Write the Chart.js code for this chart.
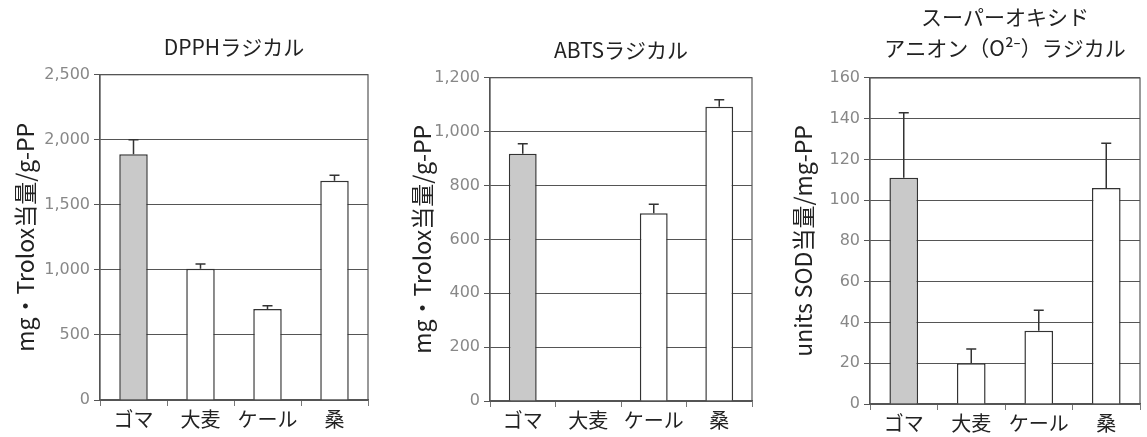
<!DOCTYPE html>
<html>
<head>
<meta charset="utf-8">
<script src="https://cdn.jsdelivr.net/npm/chart.js@4"></script>
<style>
  body { margin: 0; background: #fff; }
  #wrap { position: relative; width: 1147px; height: 437px; overflow: hidden; }
  canvas { position: absolute; top: 0; }
</style>
</head>
<body>
<div id="wrap">
  <canvas id="c1" width="380" height="437" style="left:0px"></canvas>
  <canvas id="c2" width="380" height="437" style="left:380px"></canvas>
  <canvas id="c3" width="387" height="437" style="left:760px"></canvas>
</div>
<script>
var categories = ['ゴマ', '大麦', 'ケール', '桑'];

var dpphValues = [1889, 1008, 700, 1685];
var dpphErrTop = [2000, 1045, 725, 1728];

var abtsValues = [918, 0, 697, 1092];
var abtsErrTop = [955, null, 730, 1118];

var sodValues = [111, 20, 36, 106];
var sodErrTop = [143, 27, 46, 128];

var barColors = ['#c9c9c9', '#ffffff', '#ffffff', '#ffffff'];

var jpFont = '"Noto Sans CJK JP", "Noto Sans", sans-serif';

// frame around the plot area
var framePlugin = {
    id: 'frame',
    beforeDatasetsDraw: function (chart) {
        var a = chart.chartArea, ctx = chart.ctx;
        ctx.save();
        ctx.strokeStyle = '#555';
        ctx.lineWidth = 1.2;
        ctx.strokeRect(a.left, a.top, a.right - a.left, a.bottom - a.top);
        ctx.restore();
    }
};

// upper error bars, read from dataset.errTop
var errorBarPlugin = {
    id: 'errorBars',
    afterDatasetsDraw: function (chart) {
        var ds = chart.data.datasets[0];
        var meta = chart.getDatasetMeta(0);
        var y = chart.scales.y;
        var ctx = chart.ctx;
        ctx.save();
        ctx.strokeStyle = '#333';
        ctx.lineWidth = 1.5;
        meta.data.forEach(function (bar, i) {
            var top = ds.errTop[i];
            if (top == null) return;
            var yTop = y.getPixelForValue(top);
            ctx.beginPath();
            ctx.moveTo(bar.x, bar.y);
            ctx.lineTo(bar.x, yTop);
            ctx.moveTo(bar.x - 5, yTop);
            ctx.lineTo(bar.x + 5, yTop);
            ctx.stroke();
        });
        ctx.restore();
    }
};

function makeChart(id, o) {
    var ctx = document.getElementById(id).getContext('2d');
    return new Chart(ctx, {
        type: 'bar',
        data: {
            labels: categories,
            datasets: [{
                data: o.values,
                errTop: o.errTop,
                backgroundColor: barColors,
                borderColor: '#333',
                borderWidth: 1.5,
                barPercentage: 0.85,
                categoryPercentage: 0.5
            }]
        },
        options: {
            responsive: false,
            animation: false,
            layout: { padding: { right: o.padRight, top: 0, left: 0, bottom: 0 } },
            plugins: {
                legend: { display: false },
                tooltip: { enabled: false },
                title: {
                    display: true,
                    text: o.title,
                    fullSize: false,
                    color: '#222',
                    font: { family: jpFont, size: 21, weight: 'normal', lineHeight: o.titleLineHeight },
                    padding: o.titlePad
                }
            },
            scales: {
                x: {
                    grid: { display: true, drawOnChartArea: false, drawTicks: true, tickLength: 6, color: '#777', offset: true },
                    border: { display: true, color: '#555', width: 1.2 },
                    ticks: {
                        color: '#222',
                        font: { family: jpFont, size: 20 },
                        padding: 1,
                        autoSkip: false,
                        maxRotation: 0,
                        minRotation: 0
                    },
                    afterFit: function (s) { s.height = o.xHeight; }
                },
                y: {
                    min: 0,
                    max: o.max,
                    grid: { color: '#555', lineWidth: 1, tickLength: 6, drawTicks: true },
                    border: { display: true, color: '#555', width: 1.2 },
                    ticks: {
                        stepSize: o.step,
                        color: '#888',
                        padding: 4,
                        font: { family: '"DejaVu Sans", sans-serif', size: 16 },
                        callback: function (v) { return v.toLocaleString('en-US'); }
                    },
                    title: {
                        display: true,
                        text: o.yTitle,
                        color: '#222',
                        font: { family: jpFont, size: 23 },
                        padding: { top: o.yTitleTop, bottom: 0 }
                    },
                    afterFit: function (s) { s.width = o.axisWidth; }
                }
            }
        },
        plugins: [framePlugin, errorBarPlugin]
    });
}

makeChart('c1', {
    title: 'DPPHラジカル',
    yTitle: 'mg・Trolox当量/g-PP',
    values: dpphValues, errTop: dpphErrTop,
    max: 2500, step: 500,
    axisWidth: 100, xHeight: 37, padRight: 12,
    titlePad: { top: 34, bottom: 15.5 }, titleLineHeight: 1.2,
    yTitleTop: 11
});

makeChart('c2', {
    title: 'ABTSラジカル',
    yTitle: 'mg・Trolox当量/g-PP',
    values: abtsValues, errTop: abtsErrTop,
    max: 1200, step: 200,
    axisWidth: 110, xHeight: 36, padRight: 8,
    titlePad: { top: 37, bottom: 15.5 }, titleLineHeight: 1.2,
    yTitleTop: 28
});

makeChart('c3', {
    title: ['スーパーオキシド', 'アニオン（O²⁻）ラジカル'],
    yTitle: 'units SOD当量/mg-PP',
    values: sodValues, errTop: sodErrTop,
    max: 160, step: 20,
    axisWidth: 110, xHeight: 33, padRight: 7,
    titlePad: { top: 1.5, bottom: 14.5 }, titleLineHeight: 1.476,
    yTitleTop: 29
});
</script>
</body>
</html>
